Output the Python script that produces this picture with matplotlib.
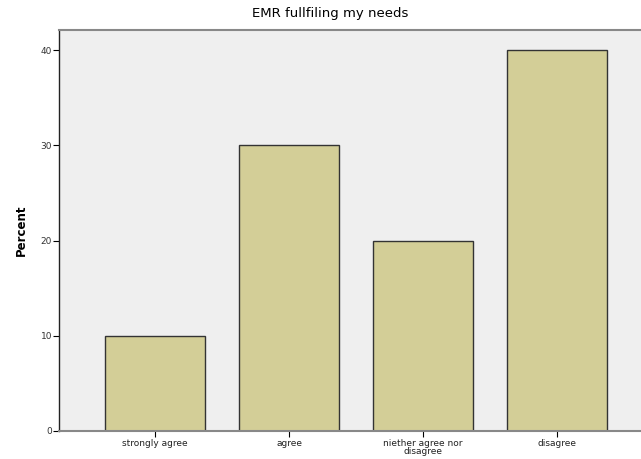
import numpy as np
import matplotlib
matplotlib.use("Agg")
import matplotlib.pyplot as plt

categories = ["strongly agree", "agree", "niether agree nor\ndisagree", "disagree"]
percent = [10, 30, 20, 40]
yticks = [0, 10, 20, 30, 40]

fig = plt.figure(figsize=(6.41, 4.59), dpi=100)
# plot frame runs off the right edge in the original
ax = fig.add_axes([59 / 641, 1 - 431 / 459, (655 - 59) / 641, (431 - 30) / 459])
ax.set_facecolor("#efefef")

x = np.arange(len(categories))
ax.bar(x, percent, width=0.75, color="#d3ce97", edgecolor="#333333", linewidth=1.0)

ax.set_xlim(-0.716, 3.73)
ax.set_ylim(0, 42.1)
ax.set_yticks(yticks)
ax.set_yticklabels([str(v) for v in yticks], fontsize=6.5, color="#333333")
ax.set_xticks(x)
ax.set_xticklabels(categories, fontsize=6.5, color="#222222", linespacing=0.8)
ax.tick_params(axis="y", length=4, width=0.8, pad=1)
ax.tick_params(axis="x", length=4, width=0.8, pad=2, direction="out")

for s in ax.spines.values():
    s.set_color("#222222")
    s.set_linewidth(1.0)
ax.spines["bottom"].set_color("#888888")
ax.spines["bottom"].set_linewidth(1.5)
ax.spines["top"].set_color("#888888")
ax.spines["top"].set_linewidth(1.5)

ax.set_ylabel("Percent", fontsize=8.5, fontweight="bold", labelpad=9)
fig.text(330 / 641, 1 - 14 / 459, "EMR fullfiling my needs", ha="center", va="center", fontsize=9.5)

fig.savefig("out.png", dpi=100)
